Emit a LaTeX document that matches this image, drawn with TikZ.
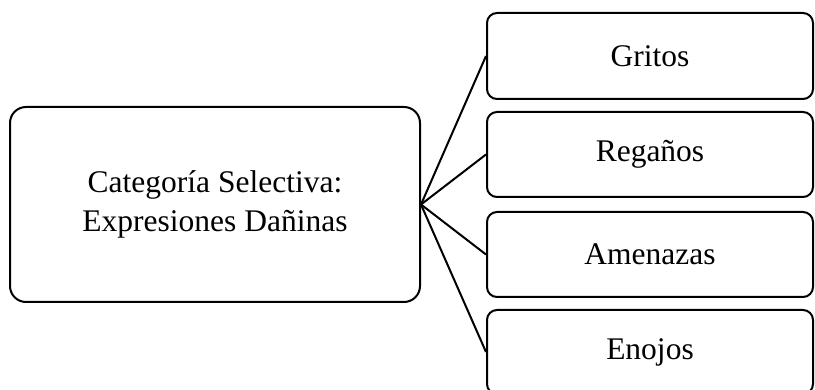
\documentclass[tikz,border=0pt]{standalone}
\usepackage{fontspec}
\setmainfont{Liberation Serif}
\usepackage{tikz}

\begin{document}
\begin{tikzpicture}[x=1pt,y=-1pt,
        catbox/.style={draw,line width=2pt,rounded corners=16pt,minimum width=410pt,minimum height=195pt,align=center,font=\fontsize{31.5}{39}\selectfont},
        itembox/.style={draw,line width=2pt,rounded corners=10pt,minimum width=326pt,align=center,font=\fontsize{31.5}{39}\selectfont}]
        \useasboundingbox (0,0) rectangle (815,390);
        \node[catbox] (cat) at (215,204.5) {Categoría Selectiva:\\Expresiones Dañinas};
        \node[itembox,minimum height=86pt] (gritos) at (650,56) {Gritos};
        \node[itembox,minimum height=85pt] (reganos) at (650,154.5) {Regaños};
        \node[itembox,minimum height=85pt] (amenazas) at (650,254.5) {Amenazas};
        \node[itembox,minimum height=84pt] (enojos) at (650,352) {Enojos};
        \draw[line width=2pt] (cat.east) -- (gritos.west);
        \draw[line width=2pt] (cat.east) -- (reganos.west);
        \draw[line width=2pt] (cat.east) -- (amenazas.west);
        \draw[line width=2pt] (cat.east) -- (enojos.west);
      \end{tikzpicture}
\end{document}
